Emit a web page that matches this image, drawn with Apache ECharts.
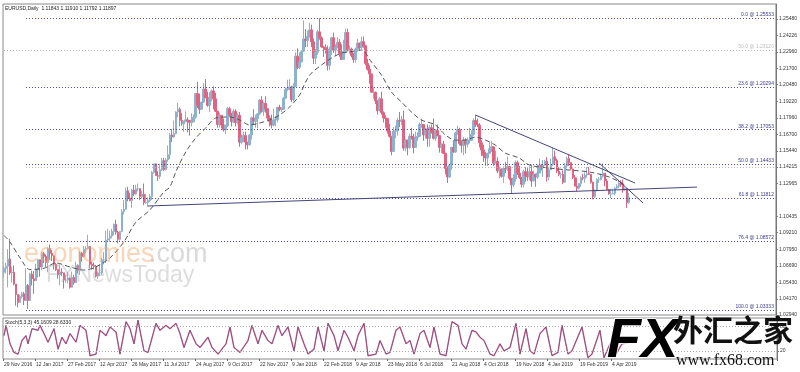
<!DOCTYPE html>
<html><head><meta charset="utf-8">
<script src="https://cdn.jsdelivr.net/npm/echarts@6/dist/echarts.min.js"></script>
<style>html,body{margin:0;padding:0;background:#fff}#c{width:800px;height:372px}</style>
</head><body><div id="c"></div>
<script>
// ---- data (2 trading days per candle) ----
const dateLabels = ['29 Nov 2016','12 Jan 2017','27 Feb 2017','12 Apr 2017','26 May 2017','11 Jul 2017','24 Aug 2017','9 Oct 2017','22 Nov 2017','9 Jan 2018','22 Feb 2018','9 Apr 2018','23 May 2018','6 Jul 2018','21 Aug 2018','4 Oct 2018','19 Nov 2018','4 Jan 2019','19 Feb 2019','4 Apr 2019'];
const firstOpen = 1.0620;
const closes = [
1.0650,1.0665,1.0720,1.0615,1.0620,1.0530,1.0450,1.0390,1.0435,1.0455,
1.0405,1.0520,1.0405,1.0605,1.0570,1.0555,1.0640,1.0715,1.0660,1.0760,
1.0740,1.0695,1.0800,1.0765,1.0745,1.0680,1.0640,1.0600,1.0620,1.0615,
1.0560,1.0560,1.0575,1.0505,1.0580,1.0540,1.0670,1.0635,1.0765,1.0740,
1.0795,1.0800,1.0815,1.0680,1.0670,1.0665,1.0590,1.0615,1.0615,1.0715,
1.0715,1.0865,1.0875,1.0895,1.0930,1.0985,1.0925,1.0870,1.0930,1.1080,
1.1100,1.1240,1.1185,1.1165,1.1245,1.1215,1.1255,1.1255,1.1195,1.1215,
1.1150,1.1150,1.1165,1.1195,1.1380,1.1445,1.1355,1.1350,1.1400,1.1470,
1.1400,1.1475,1.1515,1.1665,1.1650,1.1675,1.1840,1.1860,1.1775,1.1750,
1.1765,1.1780,1.1775,1.1760,1.1765,1.1800,1.1980,1.1890,1.1860,1.1915,
1.2015,1.1950,1.1890,1.1940,1.2000,1.1940,1.1845,1.1745,1.1815,1.1740,
1.1705,1.1735,1.1865,1.1820,1.1765,1.1845,1.1760,1.1815,1.1610,1.1645,
1.1660,1.1610,1.1590,1.1665,1.1795,1.1770,1.1790,1.1825,1.1930,1.1845,
1.1905,1.1865,1.1795,1.1770,1.1740,1.1780,1.1780,1.1875,1.1860,1.1860,
1.1945,1.2010,1.2020,1.2030,1.1935,1.2035,1.2265,1.2180,1.2220,1.2300,
1.2395,1.2385,1.2415,1.2465,1.2375,1.2250,1.2295,1.2450,1.2405,1.2335,
1.2330,1.2315,1.2195,1.2320,1.2405,1.2310,1.2335,1.2370,1.2285,1.2240,
1.2300,1.2445,1.2310,1.2320,1.2270,1.2240,1.2320,1.2365,1.2330,1.2375,
1.2345,1.2210,1.2165,1.2130,1.1990,1.1990,1.1925,1.1850,1.1940,1.1835,
1.1795,1.1790,1.1695,1.1655,1.1540,1.1695,1.1695,1.1775,1.1770,1.1780,
1.1565,1.1625,1.1570,1.1655,1.1650,1.1570,1.1645,1.1655,1.1745,1.1745,
1.1665,1.1710,1.1640,1.1720,1.1685,1.1640,1.1700,1.1660,1.1570,1.1595,
1.1525,1.1410,1.1345,1.1435,1.1570,1.1535,1.1680,1.1705,1.1600,1.1585,
1.1625,1.1595,1.1625,1.1625,1.1670,1.1775,1.1745,1.1740,1.1605,1.1550,
1.1510,1.1490,1.1525,1.1560,1.1575,1.1450,1.1465,1.1390,1.1405,1.1350,
1.1410,1.1405,1.1425,1.1335,1.1285,1.1330,1.1455,1.1375,1.1340,1.1290,
1.1385,1.1355,1.1345,1.1385,1.1315,1.1365,1.1345,1.1375,1.1435,1.1420,
1.1435,1.1465,1.1345,1.1400,1.1440,1.1500,1.1470,1.1390,1.1365,1.1365,
1.1305,1.1430,1.1485,1.1455,1.1405,1.1340,1.1275,1.1260,1.1295,1.1340,
1.1335,1.1360,1.1370,1.1365,1.1305,1.1195,1.1245,1.1325,1.1325,1.1350,
1.1375,1.1315,1.1250,1.1215,1.1215,1.1220,1.1260,1.1275,1.1300,1.1285,
1.1245,1.1255,1.1150,1.1190];
const highs = [
1.0670,1.0690,1.0796,1.0875,1.0660,1.0670,1.0490,1.0450,1.0450,1.0470,
1.0470,1.0650,1.0530,1.0615,1.0630,1.0630,1.0685,1.0720,1.0710,1.0775,
1.0775,1.0755,1.0810,1.0830,1.0790,1.0720,1.0690,1.0640,1.0680,1.0650,
1.0600,1.0600,1.0620,1.0580,1.0625,1.0600,1.0700,1.0680,1.0780,1.0775,
1.0820,1.0820,1.0905,1.0820,1.0700,1.0695,1.0675,1.0625,1.0680,1.0730,
1.0775,1.0935,1.0950,1.0935,1.0950,1.0990,1.1020,1.0935,1.0935,1.1100,
1.1170,1.1265,1.1270,1.1225,1.1255,1.1285,1.1285,1.1295,1.1260,1.1240,
1.1295,1.1215,1.1190,1.1215,1.1390,1.1445,1.1445,1.1390,1.1445,1.1490,
1.1490,1.1490,1.1585,1.1680,1.1710,1.1775,1.1845,1.1910,1.1875,1.1830,
1.1775,1.1845,1.1800,1.1780,1.1830,1.1820,1.1985,1.2070,1.1980,1.1920,
1.2060,1.2090,1.1995,1.1990,1.2010,1.2035,1.1985,1.1850,1.1835,1.1800,
1.1790,1.1745,1.1880,1.1880,1.1835,1.1860,1.1860,1.1830,1.1840,1.1670,
1.1690,1.1690,1.1610,1.1670,1.1805,1.1860,1.1820,1.1830,1.1940,1.1960,
1.1915,1.1960,1.1865,1.1815,1.1820,1.1865,1.1810,1.1880,1.1895,1.1875,
1.1955,1.2025,1.2085,1.2090,1.2040,1.2060,1.2295,1.2325,1.2295,1.2305,
1.2537,1.2470,1.2460,1.2520,1.2505,1.2400,1.2320,1.2465,1.2555,1.2415,
1.2345,1.2355,1.2345,1.2335,1.2410,1.2445,1.2355,1.2410,1.2395,1.2355,
1.2390,1.2475,1.2475,1.2345,1.2330,1.2290,1.2330,1.2395,1.2365,1.2415,
1.2415,1.2350,1.2245,1.2195,1.2130,1.2025,1.1995,1.1925,1.1955,1.1995,
1.1845,1.1815,1.1790,1.1750,1.1650,1.1725,1.1735,1.1795,1.1840,1.1810,
1.1850,1.1635,1.1630,1.1675,1.1720,1.1675,1.1690,1.1685,1.1760,1.1790,
1.1750,1.1720,1.1745,1.1740,1.1745,1.1790,1.1710,1.1745,1.1660,1.1600,
1.1620,1.1530,1.1425,1.1445,1.1575,1.1625,1.1690,1.1735,1.1720,1.1625,
1.1650,1.1640,1.1645,1.1720,1.1700,1.1790,1.1815,1.1790,1.1755,1.1625,
1.1590,1.1535,1.1530,1.1610,1.1620,1.1575,1.1545,1.1495,1.1420,1.1410,
1.1425,1.1460,1.1500,1.1430,1.1335,1.1365,1.1470,1.1470,1.1430,1.1345,
1.1400,1.1420,1.1420,1.1425,1.1440,1.1395,1.1370,1.1440,1.1485,1.1445,
1.1475,1.1475,1.1495,1.1415,1.1485,1.1570,1.1545,1.1485,1.1420,1.1380,
1.1395,1.1450,1.1500,1.1515,1.1460,1.1410,1.1360,1.1340,1.1300,1.1350,
1.1370,1.1380,1.1420,1.1420,1.1365,1.1310,1.1250,1.1335,1.1345,1.1370,
1.1450,1.1375,1.1330,1.1255,1.1255,1.1255,1.1270,1.1290,1.1325,1.1320,
1.1325,1.1265,1.1260,1.1225];
const lows = [
1.0580,1.0610,1.0505,1.0600,1.0540,1.0520,1.0365,1.0352,1.0390,1.0420,
1.0370,1.0400,1.0340,1.0400,1.0520,1.0455,1.0580,1.0580,1.0585,1.0635,
1.0690,1.0660,1.0620,1.0715,1.0705,1.0640,1.0630,1.0570,1.0520,1.0590,
1.0495,1.0540,1.0535,1.0495,1.0515,1.0525,1.0555,1.0610,1.0600,1.0700,
1.0730,1.0765,1.0795,1.0650,1.0640,1.0640,1.0580,1.0570,1.0590,1.0600,
1.0680,1.0690,1.0860,1.0850,1.0880,1.0900,1.0905,1.0840,1.0860,1.0925,
1.1060,1.1095,1.1160,1.1160,1.1110,1.1200,1.1210,1.1235,1.1170,1.1180,
1.1130,1.1140,1.1120,1.1155,1.1170,1.1370,1.1355,1.1315,1.1330,1.1390,
1.1390,1.1400,1.1460,1.1480,1.1610,1.1645,1.1670,1.1800,1.1730,1.1735,
1.1690,1.1765,1.1685,1.1660,1.1730,1.1760,1.1790,1.1870,1.1825,1.1860,
1.1910,1.1945,1.1880,1.1840,1.1920,1.1860,1.1840,1.1720,1.1720,1.1715,
1.1690,1.1670,1.1725,1.1805,1.1730,1.1755,1.1730,1.1745,1.1575,1.1595,
1.1610,1.1555,1.1555,1.1585,1.1630,1.1740,1.1720,1.1715,1.1815,1.1835,
1.1810,1.1835,1.1775,1.1730,1.1715,1.1730,1.1730,1.1760,1.1845,1.1840,
1.1855,1.1940,1.2000,1.2005,1.1915,1.1920,1.2030,1.2165,1.2165,1.2225,
1.2300,1.2335,1.2335,1.2405,1.2335,1.2205,1.2205,1.2275,1.2390,1.2330,
1.2260,1.2285,1.2155,1.2160,1.2275,1.2290,1.2265,1.2325,1.2260,1.2240,
1.2240,1.2285,1.2300,1.2285,1.2255,1.2215,1.2215,1.2300,1.2305,1.2320,
1.2330,1.2195,1.2155,1.2055,1.1985,1.1940,1.1900,1.1820,1.1845,1.1820,
1.1760,1.1720,1.1675,1.1645,1.1510,1.1535,1.1640,1.1660,1.1725,1.1740,
1.1545,1.1540,1.1510,1.1560,1.1630,1.1525,1.1570,1.1620,1.1650,1.1720,
1.1620,1.1635,1.1575,1.1575,1.1675,1.1630,1.1620,1.1655,1.1530,1.1525,
1.1520,1.1365,1.1300,1.1340,1.1400,1.1530,1.1530,1.1665,1.1585,1.1530,
1.1510,1.1525,1.1570,1.1600,1.1620,1.1660,1.1725,1.1725,1.1570,1.1505,
1.1460,1.1430,1.1430,1.1520,1.1535,1.1430,1.1450,1.1375,1.1335,1.1340,
1.1300,1.1375,1.1390,1.1320,1.1215,1.1270,1.1310,1.1360,1.1330,1.1265,
1.1265,1.1310,1.1315,1.1320,1.1270,1.1315,1.1270,1.1330,1.1375,1.1395,
1.1345,1.1430,1.1310,1.1320,1.1400,1.1430,1.1440,1.1375,1.1350,1.1335,
1.1290,1.1300,1.1410,1.1430,1.1400,1.1330,1.1275,1.1235,1.1250,1.1270,
1.1320,1.1300,1.1340,1.1360,1.1295,1.1175,1.1185,1.1235,1.1300,1.1320,
1.1340,1.1275,1.1245,1.1210,1.1185,1.1215,1.1205,1.1255,1.1260,1.1270,
1.1225,1.1240,1.1110,1.1140];
// moving average: [candle index, price]
const maPoints = [[0,1.0900],[3,1.0850],[8,1.0730],[13,1.0640],[20,1.0650],[26,1.0690],[33,1.0660],[40,1.0636],[46,1.0660],[53,1.0728],[60,1.0850],[66,1.1000],[73,1.1093],[80,1.1230],[83,1.1268],[86,1.1383],[91,1.1535],[96,1.1642],[101,1.1718],[106,1.1794],[113,1.1802],[118,1.1779],[123,1.1741],[128,1.1756],[133,1.1779],[138,1.1817],[143,1.1878],[148,1.1969],[151,1.2068],[154,1.2137],[159,1.2198],[164,1.2251],[169,1.2289],[173,1.2297],[179,1.2312],[184,1.2220],[189,1.2121],[194,1.1992],[199,1.1916],[204,1.1840],[209,1.1779],[216,1.1741],[221,1.1665],[226,1.1626],[231,1.1626],[236,1.1649],[241,1.1626],[246,1.1588],[251,1.1527],[258,1.1489],[263,1.1436],[273,1.1413],[283,1.1398],[293,1.1383],[303,1.1345],[311,1.1284]];
// stochastic turning points: [candle index, value]
const stochPoints = [[0,57],[1,82],[3,37],[5,16],[7,12],[9,45],[11,57],[12,37],[14,74],[17,70],[18,82],[20,62],[22,41],[25,74],[27,24],[29,53],[31,37],[33,62],[36,41],[38,82],[41,70],[43,8],[46,12],[48,70],[51,57],[53,78],[56,66],[58,12],[61,91],[63,74],[65,37],[67,95],[70,20],[72,16],[76,87],[78,70],[81,82],[83,74],[86,87],[88,62],[90,28],[93,70],[96,37],[98,28],[102,53],[104,28],[107,12],[111,37],[113,78],[115,28],[118,16],[122,45],[124,82],[127,37],[129,70],[132,45],[134,37],[137,82],[139,57],[142,78],[145,20],[147,78],[150,37],[152,12],[155,24],[157,78],[160,20],[162,87],[165,57],[167,20],[170,70],[172,53],[175,20],[177,57],[180,87],[182,8],[186,12],[188,45],[191,12],[193,16],[196,70],[198,78],[201,37],[203,45],[205,12],[208,62],[210,70],[213,28],[215,78],[218,12],[221,8],[224,91],[227,82],[229,37],[231,24],[234,70],[236,66],[238,53],[240,45],[243,12],[245,8],[248,37],[250,20],[253,28],[256,87],[258,12],[261,74],[263,20],[265,12],[268,62],[271,78],[274,8],[277,16],[279,82],[282,12],[284,20],[289,78],[292,3],[294,12],[298,70],[300,3],[303,37],[306,12],[309,37],[313,40]];
const priceTicks = [1.25480,1.24226,1.22960,1.21700,1.20480,1.19220,1.17960,1.16700,1.15440,1.14215,1.12965,1.10435,1.09210,1.07950,1.06690,1.05430,1.04170,1.02940];
const fibPct = ['0.0','23.6','38.2','50.0','61.8','76.4','100.0'];
const fibPrice = [1.25533,1.20294,1.17053,1.14433,1.11812,1.08572,1.03333];
const greyLevels = [1.23120,1.14210];
const greyLabels = ['50.0 @ 1.23120',''];
const lastPrice = 1.11897;
const trendLines = [[[72,1.1124],[347,1.1268]],[[236,1.1817],[316,1.1299]],[[298,1.1451],[320,1.1147]]];
const stochLevels = [20,80];

// ---- build ----
const N = 387;
const cats = Array.from({length:N},(_, i)=>String(i));
const candles = closes.map((c,i)=>{const o = i ? closes[i-1] : firstOpen; return [o, c, Math.min(lows[i],o,c), Math.max(highs[i],o,c)];});
const FONT = 'Liberation Sans';
const FS = 5;
const fibLine = {type:[1,2], color:'#4a4a9c', width:1};
const markData = [];
fibPct.forEach((p,k)=>{
  markData.push([{coord:[11,fibPrice[k]], lineStyle:fibLine,
    label:{show:true, position:'insideEndTop', distance:1, formatter:p+' @ '+fibPrice[k].toFixed(5), color:'#3a3a8c', fontSize:FS, fontFamily:FONT}},
    {coord:[N-1,fibPrice[k]]}]);
});
greyLevels.forEach((p,k)=>{
  markData.push([{coord:[k===0?0:11,p], lineStyle:{type:[1,2], color:'#b8b8b8', width:1},
    label:{show:!!greyLabels[k], position:'insideEndTop', distance:1, formatter:greyLabels[k], color:'#bdbdbd', fontSize:FS, fontFamily:FONT}},
    {coord:[N-1,p]}]);
});
trendLines.forEach(t=>{
  markData.push([{coord:t[0], lineStyle:{type:'solid', color:'#45457a', width:1}, label:{show:false}},{coord:t[1]}]);
});
markData.push({yAxis:lastPrice, lineStyle:{opacity:0}, label:{show:true, position:'end', distance:1, formatter:lastPrice.toFixed(5), backgroundColor:'#000', color:'#fff', padding:[1,3,0,2], fontSize:FS, fontFamily:FONT}});

const labelShow = (i)=>i%16===0 && i/16<dateLabels.length;
const option = {
  animation:false,
  backgroundColor:'#fff',
  grid:[
    {left:3, right:23, top:4, height:311, show:true, borderColor:'#8a8a8a', borderWidth:1, backgroundColor:'#fff'},
    {left:3, right:23, top:318, bottom:13, show:true, borderColor:'#8a8a8a', borderWidth:1}
  ],
  xAxis:[
    {type:'category', data:cats, gridIndex:0, boundaryGap:true, axisLine:{show:false}, axisTick:{show:false}, axisLabel:{show:false}},
    {type:'category', data:cats, gridIndex:1, boundaryGap:true, axisLine:{show:false},
      axisTick:{show:true, length:2, lineStyle:{color:'#666'}, interval:labelShow},
      axisLabel:{show:true, showMinLabel:true, interval:labelShow, formatter:(v)=>dateLabels[Number(v)/16]||'', align:'left', fontSize:FS, color:'#333', margin:3, fontFamily:FONT}}
  ],
  yAxis:[
    {type:'value', gridIndex:0, position:'right', min:1.0294, max:1.26622, splitLine:{show:false},
      axisLine:{show:true, lineStyle:{color:'#777'}},
      axisTick:{show:true, length:2, customValues:priceTicks, lineStyle:{color:'#777'}},
      axisLabel:{show:true, customValues:priceTicks, formatter:(v)=>v.toFixed(5), fontSize:FS, color:'#333', margin:3, fontFamily:FONT}},
    {type:'value', gridIndex:1, position:'right', min:0, max:100, splitLine:{show:false},
      axisLine:{show:true, lineStyle:{color:'#777'}},
      axisTick:{show:true, length:2, customValues:stochLevels},
      axisLabel:{show:true, customValues:stochLevels, fontSize:FS, color:'#333', margin:3, fontFamily:FONT}}
  ],
  series:[
    {type:'candlestick', xAxisIndex:0, yAxisIndex:0, data:candles, barWidth:2,
      itemStyle:{color:'#8fb2cc', color0:'#df6482', borderColor:'#8fb2cc', borderColor0:'#df6482', borderWidth:1},
      markLine:{silent:true, symbol:'none', animation:false, data:markData}},
    {type:'line', xAxisIndex:0, yAxisIndex:0, data:maPoints, smooth:0.3, showSymbol:false, silent:true,
      lineStyle:{type:[5,3], color:'#555', width:1}},
    {type:'line', xAxisIndex:1, yAxisIndex:1, data:stochPoints, showSymbol:false, silent:true,
      lineStyle:{color:'#cf68a6', width:1.4},
      markLine:{silent:true, symbol:'none', label:{show:false}, lineStyle:{type:[1,2], color:'#aaa', width:1}, data:stochLevels.map(v=>({yAxis:v}))}},
    {type:'line', xAxisIndex:1, yAxisIndex:1, data:stochPoints, showSymbol:false, silent:true,
      lineStyle:{color:'#3a3a3a', width:0.6, opacity:0.7}}
  ],
  graphic:[
    {type:'text', left:5, top:6, z:10, style:{text:'EURUSD,Daily  1.11843 1.11910 1.11792 1.11897', fontSize:FS, fill:'#222', fontFamily:FONT}},
    {type:'text', left:5, top:320, z:10, style:{text:'Stoch(5,3,3) 45.1609 28.6330', fontSize:FS, fill:'#222', fontFamily:FONT}},
    {type:'text', left:24, top:241, z:5, silent:true, style:{text:'economies', fontSize:27, fill:'rgba(240,165,100,0.45)', fontFamily:FONT}},
    {type:'text', left:149, top:241, z:5, silent:true, style:{text:'.com', fontSize:27, fill:'rgba(170,170,170,0.45)', fontFamily:FONT}},
    {type:'text', left:46, top:264, z:5, silent:true, style:{text:'FXNewsToday', fontSize:23, fill:'rgba(170,170,170,0.4)', fontFamily:FONT}},
    {type:'text', left:606, top:313, z:20, silent:true, style:{text:'FX', fontSize:56, fontWeight:'bold', fontStyle:'italic', fontFamily:FONT,
      fill:{type:'linear', x:0, y:0, x2:0, y2:1, colorStops:[{offset:0, color:'#3d8fe0'},{offset:1, color:'#0d4fa8'}]}, stroke:'#fff', lineWidth:1.5}},
    {type:'text', left:673, top:315, z:20, silent:true, style:{text:'外汇之家', fontSize:30, fontWeight:'bold', fill:'#111', fontFamily:'Noto Sans CJK SC'}},
    {type:'text', left:676, top:353, z:20, silent:true, style:{text:'www.fx68.com', fontSize:16, fill:'#111', fontFamily:'Liberation Serif'}}
  ]
};
const chart = echarts.init(document.getElementById('c'), null, {renderer:'canvas'});
chart.setOption(option);
</script>
</body></html>
